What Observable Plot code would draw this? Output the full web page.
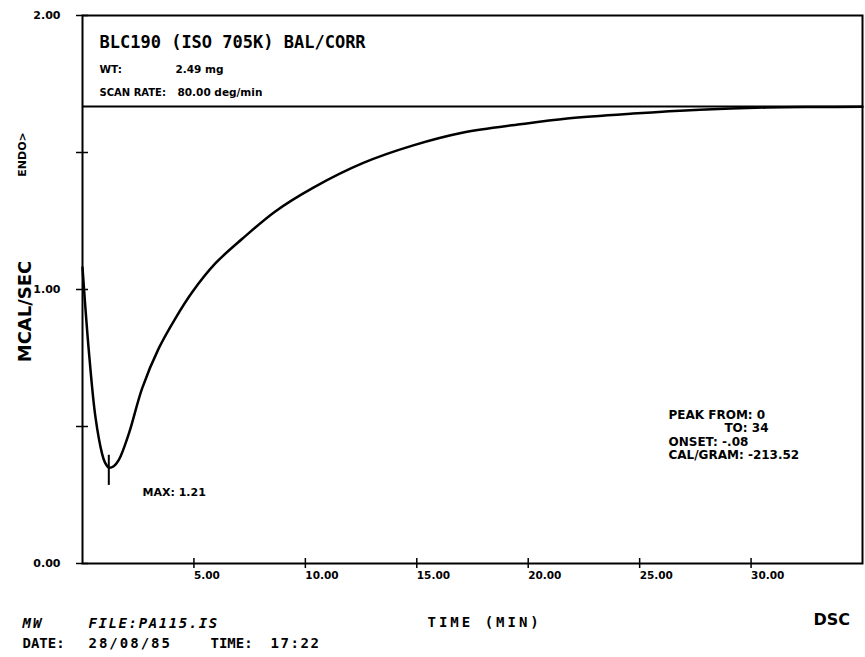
<!DOCTYPE html>
<html><head><meta charset="utf-8">
<script src="https://cdn.jsdelivr.net/npm/d3@7"></script>
<script src="https://cdn.jsdelivr.net/npm/@observablehq/plot@0.6"></script>
<style>
body{margin:0;background:#fff;}
#chart svg{display:block;background:#fff;}
</style></head><body><div id="chart"></div>
<script>
// ---- data ----
const timeMin = [0, 0.28, 0.58, 0.88, 1.0, 1.18, 1.4, 1.63, 2.08, 2.68, 3.42, 4.17, 4.92, 5.96, 7.17, 8.65, 10.36, 12.6, 14.84, 17.09, 19.64, 21.75, 24.7, 27.7, 30.7, 33.0, 35.0];
const mcalPerSec = [1.08, 0.78, 0.535, 0.40, 0.37, 0.35, 0.355, 0.378, 0.474, 0.64, 0.785, 0.895, 0.99, 1.095, 1.185, 1.285, 1.372, 1.462, 1.526, 1.573, 1.603, 1.624, 1.642, 1.656, 1.664, 1.666, 1.667];
const xTicks = [5, 10, 15, 20, 25, 30];
const yTicks = [0, 0.5, 1, 1.5, 2];
const yLabelTicks = [0, 1, 2];
const baselineValue = 1.668;
const peakTime = 1.18;
const peakValue = 0.35;
const titleText = "BLC190 (ISO 705K) BAL/CORR";
const headerLabels = ["WT:", "SCAN RATE:"];
const headerValues = ["2.49 mg", "80.00 deg/min"];
const peakInfo = ["PEAK FROM: 0", "TO: 34", "ONSET: -.08", "CAL/GRAM: -213.52"];
const maxLabel = "MAX: 1.21";
const yAxisLabel = "MCAL/SEC";
const endoLabel = "ENDO>";
const xAxisLabel = "TIME (MIN)";
const footer = {op: "MW", file: "FILE:PA115.IS", dateLbl: "DATE:", date: "28/08/85", timeLbl: "TIME:", time: "17:22", inst: "DSC"};

const data = timeMin.map((t, i) => ({t, v: mcalPerSec[i]}));
const SANS = "DejaVu Sans", MONO = "DejaVu Sans Mono", NARROW = "Liberation Sans";

function label(text, dx, dy, o = {}) {
  return Plot.text([text], Object.assign({frameAnchor: "top-left", dx, dy, textAnchor: "start",
    fontFamily: SANS, fontWeight: "bold", fontSize: 11, fill: "black"}, o));
}

const chart = Plot.plot({
  width: 865, height: 657,
  marginLeft: 82, marginRight: 3, marginTop: 15, marginBottom: 94,
  x: {domain: [0, 35]},
  y: {domain: [0, 2]},
  marks: [
    Plot.frame({stroke: "black", strokeWidth: 2}),
    Plot.ruleY([baselineValue], {stroke: "black", strokeWidth: 2}),
    Plot.axisY({ticks: yTicks, tickSize: 12, dx: 6, tickFormat: () => "", label: null, strokeWidth: 1.5}),
    Plot.axisY({ticks: yLabelTicks, tickSize: 0, tickPadding: 22, tickFormat: d3.format(".2f"), label: null,
      fontSize: 11, fontWeight: "bold", fontFamily: SANS}),
    Plot.axisX({ticks: xTicks, tickSize: 10, dy: -5, tickFormat: () => "", label: null, strokeWidth: 1.5}),
    Plot.axisX({ticks: xTicks, tickSize: 0, tickPadding: 8, tickFormat: d3.format(".2f"), label: null,
      textAnchor: "start", fontSize: 10.5, fontWeight: "bold", fontFamily: SANS}),
    Plot.line(data, {x: "t", y: "v", curve: "catmull-rom", stroke: "black", strokeWidth: 2.5}),
    Plot.ruleX([peakTime], {y1: peakValue - 0.065, y2: peakValue + 0.045, stroke: "black", strokeWidth: 2}),
    // header box
    label(titleText, 17, 20, {fontFamily: MONO, fontSize: 17}),
    label(headerLabels[0], 17, 50, {fontFamily: SANS, fontSize: 10.5}),
    label(headerValues[0], 93, 50, {fontFamily: SANS, fontSize: 10.5}),
    label(headerLabels[1], 17, 73, {fontFamily: SANS, fontSize: 10}),
    label(headerValues[1], 95, 73, {fontFamily: SANS, fontSize: 10.5}),
    // annotations
    label(maxLabel, 60, 473, {fontSize: 11}),
    label(peakInfo[0], 586, 395, {fontSize: 12}),
    label(peakInfo[1], 686, 408, {fontSize: 12, textAnchor: "end"}),
    label(peakInfo[2], 586, 422, {fontSize: 12}),
    label(peakInfo[3], 586, 435, {fontSize: 12}),
    // y-axis labels
    label(yAxisLabel, -64, 296, {rotate: -90, textAnchor: "middle", fontSize: 18}),
    label(endoLabel, -64, 139, {rotate: -90, textAnchor: "middle", fontSize: 11}),
    // footer
    label(footer.op, -60, 603, {fontFamily: MONO, fontSize: 14, fontStyle: "italic"}),
    label(footer.file, 6, 603, {fontFamily: MONO, fontSize: 14, fontStyle: "italic"}),
    label(xAxisLabel, 345, 602, {fontFamily: MONO, fontSize: 14}),
    label(footer.inst, 731, 598, {fontSize: 16}),
    label(footer.dateLbl, -60, 623, {fontFamily: MONO, fontSize: 14}),
    label(footer.date, 6, 623, {fontFamily: MONO, fontSize: 14}),
    label(footer.timeLbl, 128, 623, {fontFamily: MONO, fontSize: 14}),
    label(footer.time, 188, 623, {fontFamily: MONO, fontSize: 14})
  ]
});
document.getElementById("chart").append(chart);

// letter spacing to imitate the wide plotter lettering
const spacing = {"TIME (MIN)": 3, "FILE:PA115.IS": 1.6, "28/08/85": 2, "17:22": 1.6, "MW": 2};
d3.select(chart).selectAll("text").each(function () {
  const s = spacing[this.textContent];
  if (s) this.style.letterSpacing = s + "px";
});
</script>
</body></html>
